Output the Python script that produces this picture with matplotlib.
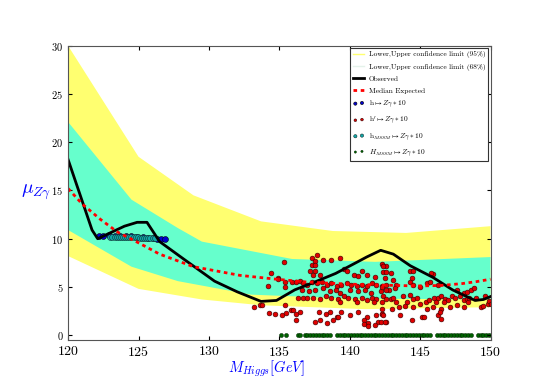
import numpy as np
import matplotlib
matplotlib.use('Agg')
import matplotlib.pyplot as plt

plt.rcParams['font.family'] = ['cmr10', 'DejaVu Serif']
plt.rcParams['mathtext.fontset'] = 'cm'
plt.rcParams['axes.formatter.use_mathtext'] = True

# -----------------------------
# band limits (95% yellow, 68% cyan)
# -----------------------------
up95_x = [120, 125.0, 128.9, 133.7, 138.8, 144.0, 150]
up95_y = [30.0, 18.5, 14.5, 11.8, 10.8, 10.6, 11.3]
lo95_x = [120, 125.0, 129.5, 133.7, 141.1, 150]
lo95_y = [8.2, 4.8, 3.7, 3.1, 2.7, 2.9]

up68_x = [120, 124.5, 127.8, 129.5, 135.9, 141.8, 150]
up68_y = [22.1, 14.05, 11.1, 9.7, 7.9, 7.6, 8.1]
lo68_x = [120, 124.5, 127.8, 133.0, 140.0, 150]
lo68_y = [10.9, 7.1, 5.6, 4.2, 3.8, 3.7]

# observed and median expected
obs_x = [120, 121.7, 122.1, 124.0, 124.9, 125.6, 126.5, 128.2, 130.4, 132.0, 133.7,
         134.8, 136.1, 137.5, 139.0, 140.3, 141.2, 142.2, 143.1, 144.3, 145.9, 147.3,
         148.9, 149.5, 150]
obs_y = [18.2, 10.9, 10.0, 11.3, 11.7, 11.7, 9.7, 7.9, 5.6, 4.5, 3.5,
         3.6, 4.7, 5.5, 6.4, 7.4, 8.1, 8.8, 8.4, 7.2, 6.0, 4.7,
         3.6, 3.7, 4.0]

med_x = [120, 121, 122.3, 123.5, 125.1, 126.5, 128.9, 132.2, 134.8, 137, 139.8,
         142, 144.8, 146.5, 148, 149, 150]
med_y = [15.2, 13.6, 12.0, 10.7, 9.5, 8.4, 7.1, 6.2, 5.8, 5.5, 5.3,
         5.2, 5.1, 5.15, 5.35, 5.55, 5.8]

# h -> Z gamma * 10 (blue)
h_x = [122.2, 122.5, 122.9, 123.3, 123.7, 124.1, 124.5, 124.9, 125.3, 125.7,
       126.0, 126.3, 126.6, 126.9]
h_y = [10.3, 10.25, 10.35, 10.3, 10.3, 10.25, 10.25, 10.2, 10.15, 10.1,
       10.05, 10.0, 10.0, 9.95]

# h_MSSM (teal)
hm_x = [123.0, 123.15, 123.3, 123.45, 123.6, 123.75, 123.9, 124.05, 124.2, 124.35,
        124.5, 124.65, 124.8, 124.95, 125.1, 125.25, 125.4, 125.55, 125.7, 125.85,
        126.0, 126.2]
hm_y = [10.15, 10.15, 10.15, 10.15, 10.15, 10.15, 10.15, 10.15, 10.15, 10.15,
        10.15, 10.15, 10.15, 10.15, 10.1, 10.1, 10.1, 10.1, 10.1, 10.1,
        10.05, 10.05]

# h' (red)
hp_x = [133.2, 133.6, 133.75, 134.2, 134.3, 134.4, 134.7, 134.9, 134.9, 135.2,
        135.3, 135.4, 135.4, 135.4, 135.5, 135.8, 135.9, 136.0, 136.2, 136.2,
        136.2, 136.3, 136.5, 136.5, 136.6, 136.7,
        137.3, 137.5, 138.1, 138.7, 139.3, 137.7, 137.3, 137.5,
        137.2, 137.5, 137.4, 137.9,
        139.6, 139.8, 140.9, 140.3, 140.6, 141.2, 141.8, 142.3, 142.6,
        136.7, 137.0, 137.3, 137.7, 138.0, 138.4, 138.7, 139.1, 139.4, 139.8,
        140.1, 140.5, 140.9, 141.2, 141.6, 141.9, 142.3, 142.6,
        137.1, 137.5, 138.1, 138.6, 139.0, 139.3, 140.0, 140.6, 141.1, 141.5,
        142.2, 142.8,
        137.0, 137.4, 137.9, 138.3, 138.7, 139.2, 139.6, 139.9, 140.4, 140.9,
        141.2, 141.6, 141.9, 142.4, 142.9,
        139.3, 140.5, 141.7, 142.3,
        137.8, 138.3, 138.6, 139.1, 139.4, 140.0, 140.6, 141.2, 141.9, 142.3,
        138.8, 137.5, 137.9, 138.4, 139.2, 141.3, 142.0, 142.6, 141.0,
        141.0, 141.3, 141.8,
        142.4, 142.4, 142.6, 142.9, 142.5, 143.1, 143.3, 143.2,
        144.3, 144.5, 144.4, 144.3, 144.5, 142.3, 142.6,
        145.0, 145.5, 145.7, 146.3, 145.9, 145.8,
        147.6, 148.1, 148.3, 148.6,
        142.6, 143.1, 143.3, 143.8, 144.1, 144.3, 144.5, 144.8, 145.0, 145.4,
        145.6, 146.0, 146.3, 146.5, 146.8, 147.0, 147.3, 147.5, 147.8, 148.1, 148.3,
        146.1, 146.7, 147.6, 148.4,
        142.3, 143.0, 143.5, 143.9, 144.5, 145.5, 145.9, 146.5, 147.1, 148.1,
        142.3, 142.4, 142.2, 142.5, 143.6, 144.4, 145.1, 145.3, 146.3, 146.4, 146.5,
        148.8, 149.0, 149.3, 149.5, 149.6, 149.8, 149.9, 150.0, 148.5]
hp_y = [2.9, 3.1, 3.1, 5.05, 2.3, 6.45, 2.2, 5.95, 5.8, 2.1,
        7.6, 5.55, 4.95, 3.1, 2.3, 2.6, 5.55, 2.6, 5.55, 2.2,
        1.6, 3.9, 5.6, 2.4, 4.7, 3.9,
        8.0, 7.7, 7.8, 7.8, 8.0, 8.3, 7.3, 7.3,
        6.7, 6.7, 6.2, 6.2,
        6.9, 6.7, 6.7, 6.2, 6.1, 6.2, 6.0, 7.4, 7.2,
        5.4, 5.2, 5.5, 5.4, 5.5, 5.2, 5.4, 5.1, 5.2, 5.4,
        5.2, 5.1, 5.2, 5.1, 5.4, 5.2, 5.1, 5.2,
        4.6, 4.7, 4.9, 4.6, 4.7, 4.4, 4.7, 4.6, 4.7, 4.4,
        4.6, 4.7,
        3.9, 3.9, 3.7, 4.1, 3.9, 3.7, 4.1, 3.9, 3.7, 3.9,
        3.6, 3.9, 3.7, 4.1, 3.7,
        3.4, 3.4, 3.4, 3.4,
        2.4, 2.2, 2.4, 1.9, 2.4, 2.1, 2.4, 1.9, 2.1, 2.2,
        1.6, 1.4, 1.6, 1.3, 1.9, 1.3, 1.4, 1.4, 1.6,
        1.2, 1.0, 1.1,
        7.2, 6.5, 6.5, 6.4, 5.9, 5.7, 5.2, 4.9,
        6.7, 6.7, 5.9, 5.5, 5.2, 5.0, 4.7,
        5.0, 5.4, 5.5, 5.2, 6.3, 6.4,
        4.7, 4.4, 4.5, 4.7,
        3.7, 3.9, 3.4, 4.1, 3.4, 4.2, 3.7, 3.9, 3.2, 3.4,
        3.6, 3.9, 3.9, 4.1, 3.7, 3.6, 4.1, 3.9, 4.1, 3.6, 3.7,
        3.4, 3.4, 3.1, 3.4,
        2.7, 2.7, 2.9, 3.0, 2.9, 2.7, 2.9, 2.7, 2.9, 2.9,
        2.2, 2.1, 1.4, 1.4, 2.1, 1.6, 1.9, 1.9, 2.1, 2.4, 1.7,
        4.9, 3.9, 2.9, 3.0, 4.1, 3.2, 3.5, 3.2, 3.9]

# H_MSSM (green), all at zero
Hm_x = [135.1, 135.5, 136.3, 136.5, 136.8, 137.0, 137.2, 137.4, 137.6, 137.8, 138.0,
        138.2, 138.4, 138.6, 139.1, 139.3, 139.5, 139.7, 139.9, 140.1, 140.3, 140.5,
        140.7, 140.9, 141.1, 141.3, 141.5, 141.7, 141.9, 142.1, 142.3, 142.5, 142.7,
        142.9, 143.1, 143.3, 143.5, 143.7, 143.9, 144.1, 144.3, 144.5, 144.7, 144.9,
        145.1, 145.3, 145.5, 145.7, 146.2, 146.4, 146.6, 146.8, 147.0, 147.2, 147.4,
        147.6, 147.8, 148.0, 148.2, 148.4, 148.6, 149.1, 149.3, 149.5, 149.7, 149.9]
Hm_y = [0.0] * len(Hm_x)

yellow = '#ffff70'
cyan = '#66ffcc'

fig = plt.figure(figsize=(5.45, 3.82), dpi=100)
ax = fig.add_subplot(111)

ax.fill(np.concatenate([up95_x, lo95_x[::-1]]), np.concatenate([up95_y, lo95_y[::-1]]),
        color=yellow, lw=0)
ax.fill(np.concatenate([up68_x, lo68_x[::-1]]), np.concatenate([up68_y, lo68_y[::-1]]),
        color=cyan, lw=0)

# dummy lines for legend of the limits
ax.plot([], [], color=yellow, lw=1, label='Lower,Upper confidence limit (95%)')
ax.plot([], [], color='#e4f2ea', lw=1, label='Lower,Upper confidence limit (68%)')
ax.plot(obs_x, obs_y, 'k-', lw=2, label='Observed')
ax.plot(med_x, med_y, color='red', lw=2, ls=(0, (1.3, 1.3)), label='Median Expected')

ax.scatter(h_x, h_y, s=18, c='#0000cc', edgecolors='k', linewidths=0.4,
           label=r'$\mathrm{h}\mapsto Z\gamma*10$')
ax.scatter(hp_x, hp_y, s=12, c='#e00000', edgecolors='#300000', linewidths=0.4,
           label=r"$\mathrm{h}'\mapsto Z\gamma*10$")
ax.scatter(hm_x, hm_y, s=18, c='#10a8a8', edgecolors='#103030', linewidths=0.4,
           label=r'$\mathrm{h}_{MSSM}\mapsto Z\gamma*10$')
ax.scatter(Hm_x, Hm_y, s=9, c='#006000', edgecolors='#002000', linewidths=0.3,
           label=r'$H_{MSSM}\mapsto Z\gamma*10$')

ax.set_xlim(120, 150)
ax.set_ylim(-0.5, 30)
ax.set_xticks([120, 125, 130, 135, 140, 145, 150])
ax.set_yticks([0, 5, 10, 15, 20, 25, 30])
ax.tick_params(axis='x', labelsize=10, direction='in', top=True, length=3)
ax.tick_params(axis='y', labelsize=7.5, direction='in', right=True, length=3)
for sp in ax.spines.values():
    sp.set_color('#555555')

ax.set_xlabel(r'$M_{Higgs}[GeV]$', color='blue', fontsize=10.5)
ax.xaxis.set_label_coords(0.47, -0.065)
ax.text(-0.075, 0.5, r'$\mu_{Z\gamma}$', color='blue', fontsize=14,
        ha='center', va='center', transform=ax.transAxes)

leg = ax.legend(loc='upper right', fontsize=5.3, scatterpoints=2, handlelength=1.5,
                markerscale=0.55, fancybox=False, borderaxespad=0.3, labelspacing=0.72,
                handletextpad=0.6, borderpad=0.4, framealpha=1)
leg.get_frame().set_edgecolor('#333333')
leg.get_frame().set_linewidth(0.8)

fig.savefig('out.png', dpi=100)
